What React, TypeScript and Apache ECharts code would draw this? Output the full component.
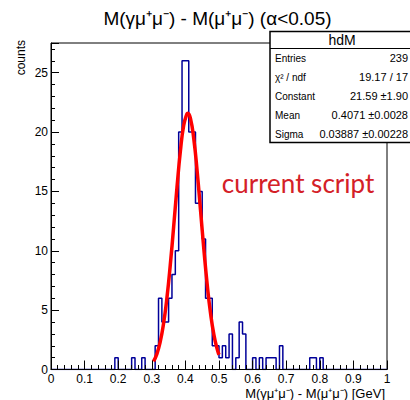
import React, { useEffect, useRef } from "react";
import * as echarts from "echarts";

// Histogram: 100 bins of width 0.01 from 0 to 1
const binLow = 0;
const binWidth = 0.01;
const binCounts = [
  0, 0, 0, 0, 0, 0, 0, 0, 0, 0,
  0, 0, 0, 0, 0, 0, 0, 0, 0, 1,
  0, 0, 0, 0, 1, 0, 0, 1, 0, 0,
  0, 2, 6, 4, 4, 6, 8, 10, 20, 26,
  26, 20, 20, 14, 15, 11, 6, 6, 2, 2,
  1, 2, 1, 3, 0, 1, 4, 3, 0, 0,
  1, 0, 1, 0, 1, 1, 1, 0, 2, 0,
  0, 0, 0, 0, 0, 0, 0, 1, 1, 0,
  1, 0, 0, 0, 0, 0, 0, 0, 0, 0,
  0, 0, 0, 0, 0, 0, 0, 0, 0, 0,
];

// Fitted gaussian curve
const fitX = [0.305, 0.315, 0.325, 0.335, 0.345, 0.355, 0.365, 0.375, 0.385, 0.395, 0.405, 0.4071, 0.415, 0.425, 0.435, 0.445, 0.455, 0.465, 0.475, 0.485, 0.495, 0.5];
const fitY = [0.68, 1.3, 2.32, 3.87, 6.02, 8.8, 12.01, 15.35, 18.37, 20.57, 21.56, 21.59, 21.15, 19.42, 16.69, 13.42, 10.1, 7.12, 4.7, 2.9, 1.67, 1.24];

const titleText = "M(γμ⁺μ⁻) - M(μ⁺μ⁻) (α<0.05)";
const xTitle = "M(γμ⁺μ⁻) - M(μ⁺μ⁻) [GeV]";
const yTitle = "counts";
const statsName = "hdM";
const statsLabels = ["Entries", "χ² / ndf", "Constant", "Mean", "Sigma"];
const statsValues = ["239", "19.17 / 17", "21.59 ±1.90", "0.4071 ±0.0028", "0.03887 ±0.00228"];
const noteText = "current script";

const xMin = 0, xMax = 1, xStep = 0.1;
const yMin = 0, yMax = 27.5, yStep = 5;

const FONT = "'Liberation Sans', Arial, Helvetica, sans-serif";

export default function App() {
  const ref = useRef<HTMLDivElement>(null);
  useEffect(() => {
    const chart = echarts.init(ref.current!, null, { renderer: "svg" });
    const histPoints: number[][] = binCounts.map((c, i) => [binLow + i * binWidth, c]);
    histPoints.push([binLow + binCounts.length * binWidth, binCounts[binCounts.length - 1]]);
    const fitPoints = fitX.map((x, i) => [x, fitY[i]]);

    const statsTop = 31.5;
    const rowY = [58, 77, 96, 115, 134];
    const graphics: any[] = [
      { type: "text", x: 217.5, y: 18, z: 100, style: { text: titleText, font: `19px ${FONT}`, fill: "#000", align: "center", verticalAlign: "middle" } },
      { type: "text", x: 385, y: 393, z: 100, style: { text: xTitle, font: `13px ${FONT}`, fill: "#000", align: "right", verticalAlign: "middle" } },
      { type: "text", x: 21, y: 40, rotation: Math.PI / 2, z: 100, style: { text: yTitle, font: `12px ${FONT}`, fill: "#000", align: "right", verticalAlign: "middle" } },
      { type: "rect", z: 100, shape: { x: 270, y: statsTop, width: 170, height: 111 }, style: { fill: "#fff", stroke: "#000", lineWidth: 1.5 } },
      { type: "line", z: 101, shape: { x1: 270, y1: 48.5, x2: 440, y2: 48.5 }, style: { stroke: "#000", lineWidth: 1 } },
      { type: "text", x: 342, y: 40, z: 102, style: { text: statsName, font: `14px ${FONT}`, fill: "#000", align: "center", verticalAlign: "middle" } },
      { type: "text", x: 298, y: 183, z: 102, style: { text: noteText, font: `26px Lato, 'Open Sans', sans-serif`, fill: "#d42027", align: "center", verticalAlign: "middle" } },
    ];
    statsLabels.forEach((l, i) => {
      graphics.push({ type: "text", x: 275, y: rowY[i], z: 102, style: { text: l, font: `10px ${FONT}`, fill: "#000", align: "left", verticalAlign: "middle" } });
      graphics.push({ type: "text", x: 408, y: rowY[i], z: 102, style: { text: statsValues[i], font: `11px ${FONT}`, fill: "#000", align: "right", verticalAlign: "middle" } });
    });

    const axisCommon = {
      z: 5,
      axisLine: { show: true, onZero: false, lineStyle: { color: "#000", width: 1 } },
      splitLine: { show: false },
    };

    chart.setOption({
      animation: false,
      backgroundColor: "#fff",
      grid: { left: 51, top: 43, width: 336, height: 326.5, show: true, borderColor: "#000", borderWidth: 1, backgroundColor: "transparent" },
      xAxis: {
        type: "value",
        min: xMin,
        max: xMax,
        interval: xStep,
        ...axisCommon,
        axisTick: { show: true, inside: true, length: 9, lineStyle: { color: "#000" } },
        minorTick: { show: true, splitNumber: 5, length: 4.5, lineStyle: { color: "#000" } },
        axisLabel: { color: "#000", fontSize: 12, fontFamily: FONT, margin: 3, formatter: (v: number) => String(+v.toFixed(1)) },
      },
      yAxis: {
        type: "value",
        min: yMin,
        max: yMax,
        interval: yStep,
        ...axisCommon,
        axisTick: { show: true, inside: true, length: 8, lineStyle: { color: "#000" } },
        minorTick: { show: true, splitNumber: 5, length: 4, lineStyle: { color: "#000" } },
        axisLabel: { color: "#000", fontSize: 12, fontFamily: FONT, margin: 3, showMaxLabel: false, formatter: (v: number) => (Math.abs(v % yStep) < 1e-9 ? String(v) : "") },
      },
      series: [
        { type: "line", step: "end", data: histPoints, symbol: "none", lineStyle: { color: "#000099", width: 1.5 }, z: 2 },
        { type: "line", smooth: true, data: fitPoints, symbol: "none", lineStyle: { color: "#ff0000", width: 3.5 }, z: 3 },
      ],
      graphic: graphics,
    });
    return () => chart.dispose();
  }, []);
  return <div ref={ref} style={{ position: "absolute", left: 0, top: 0, width: 410, height: 400 }} />;
}
